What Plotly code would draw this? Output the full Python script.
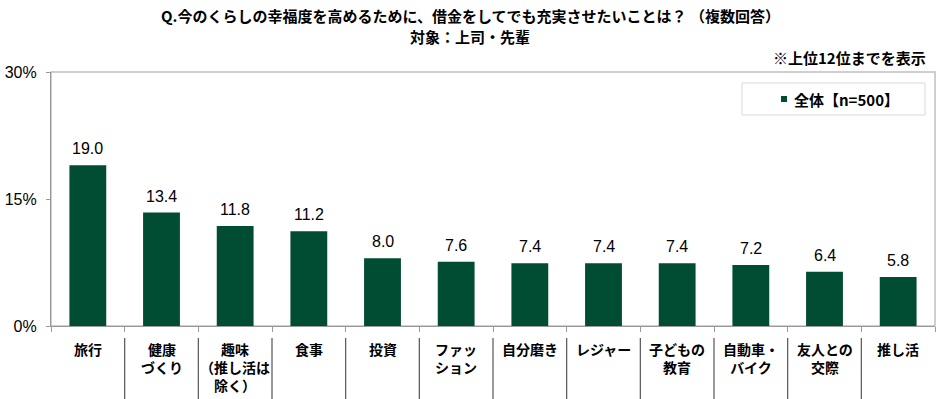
import plotly.graph_objects as go

categories = ["旅行", "健康<br>づくり", "趣味<br>（推し活は<br>除く）", "食事", "投資", "ファッ<br>ション",
              "自分磨き", "レジャー", "子どもの<br>教育", "自動車・<br>バイク", "友人との<br>交際", "推し活"]
values = [19.0, 13.4, 11.8, 11.2, 8.0, 7.6, 7.4, 7.4, 7.4, 7.2, 6.4, 5.8]
series_name = "全体【n=500】"
y_ticks = [0, 15, 30]
y_ticklabels = ["0%", "15%", "30%"]

BAR = "#004D33"
JP = "Noto Sans CJK JP"
W, H = 940, 399
L, R, T, B = 51, 5, 72, 73
pw = W - L - R
ph = H - T - B


def px(x):
    return (x - L) / pw


def py(y):
    return (H - B - y) / ph


xs = list(range(len(categories)))

fig = go.Figure()
fig.add_trace(go.Bar(
    x=xs, y=values, name=series_name, width=0.5,
    marker=dict(color=BAR, line=dict(width=0)),
    hovertemplate="%{y:.1f}<extra></extra>", showlegend=False,
))

ann = []
shapes = []
# data labels
for i, v in enumerate(values):
    ann.append(dict(x=i, xref="x", y=v, yref="y", yanchor="bottom", yshift=6,
                    text=f"{v:.1f}", showarrow=False,
                    font=dict(family="Liberation Sans, Arial", size=16, color="#000")))
# category labels
for i, lab in enumerate(categories):
    ann.append(dict(x=i, xref="x", y=py(337), yref="paper", yanchor="top",
                    text=f"<b>{lab}</b>", showarrow=False, align="center",
                    font=dict(family=JP, size=14, color="#000")))
# separators in label area
for i in range(1, len(categories)):
    shapes.append(dict(type="line", xref="x", yref="paper", x0=i - 0.5, x1=i - 0.5,
                       y0=py(338), y1=py(399),
                       line=dict(color="#555", width=1.2)))
# plot frame
shapes.append(dict(type="rect", xref="paper", yref="paper", x0=0, x1=1, y0=0, y1=1,
                   line=dict(color="#C0C0C0", width=1.5), layer="below"))
# legend box + marker + text
shapes.append(dict(type="rect", xref="paper", yref="paper", x0=px(742), x1=px(925),
                   y0=py(115), y1=py(83), line=dict(color="#D9D9D9", width=1), fillcolor="#FFFFFF"))
shapes.append(dict(type="rect", xref="paper", yref="paper", x0=px(781), x1=px(787),
                   y0=py(102), y1=py(96), line=dict(width=0), fillcolor=BAR))
ann.append(dict(x=px(792), xref="paper", xanchor="left", y=py(99), yref="paper", yanchor="middle",
                text=f"<b>{series_name}</b>", showarrow=False,
                font=dict(family=JP, size=15, color="#000")))

# titles
ann.append(dict(x=px(470), xref="paper", xanchor="center", y=py(16), yref="paper", yanchor="middle",
                text="<b>Q.今のくらしの幸福度を高めるために、借金をしてでも充実させたいことは？ （複数回答）</b>",
                showarrow=False, font=dict(family=JP, size=15, color="#000")))
ann.append(dict(x=px(470), xref="paper", xanchor="center", y=py(36), yref="paper", yanchor="middle",
                text="<b>対象：上司・先輩</b>", showarrow=False, font=dict(family=JP, size=15, color="#000")))
ann.append(dict(x=px(928), xref="paper", xanchor="right", y=py(57), yref="paper", yanchor="middle",
                text="<b>※上位12位までを表示</b>", showarrow=False, font=dict(family=JP, size=15, color="#000")))

fig.update_layout(
    width=W, height=H, margin=dict(l=L, r=R, t=T, b=B, pad=0, autoexpand=False),
    paper_bgcolor="#FFFFFF", plot_bgcolor="#FFFFFF",
    annotations=ann, shapes=shapes, showlegend=False,
    xaxis=dict(range=[-0.5, len(categories) - 0.5], tickmode="array",
               tickvals=[i - 0.5 for i in range(len(categories) + 1)], showticklabels=False,
               ticks="outside", ticklen=5, tickcolor="#999", showgrid=False,
               showline=True, linecolor="#999", linewidth=1.2, zeroline=False, fixedrange=True,
               automargin=False),
    yaxis=dict(range=[0, 30], tickmode="array", tickvals=y_ticks, ticktext=y_ticklabels,
               ticks="outside", ticklen=4, tickcolor="#999", showgrid=False,
               showline=True, linecolor="#999", linewidth=1.2, zeroline=False,
               tickfont=dict(family="Liberation Sans, Arial", size=16, color="#000"),
               ticklabelstandoff=6, automargin=False, fixedrange=True),
)

fig.write_html("out.html", config={"displayModeBar": False},
               post_script="document.body.style.margin='0';document.body.style.overflow='hidden';")
